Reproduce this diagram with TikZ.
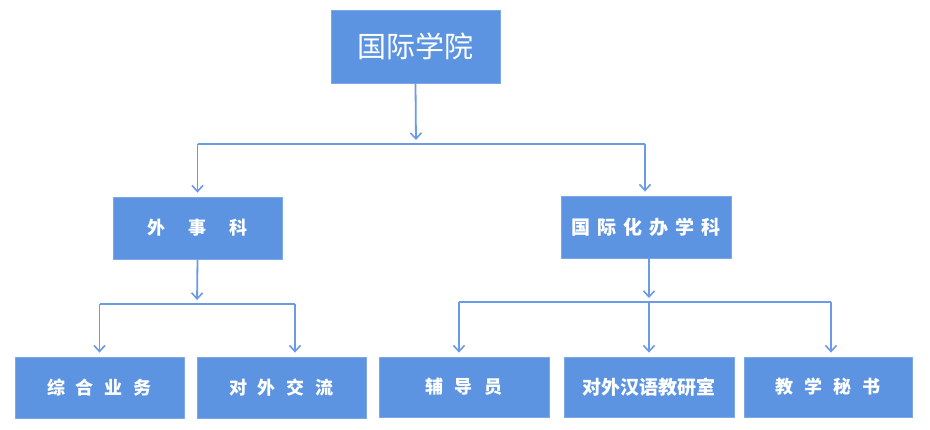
\documentclass[tikz,border=0pt]{standalone}
\usepackage{fontspec}
\newfontfamily\cjk{Noto Sans CJK SC}
\usetikzlibrary{arrows.meta}
\definecolor{boxfill}{RGB}{92,148,226}
\definecolor{boxedge}{RGB}{125,168,232}
\definecolor{linec}{RGB}{106,154,232}
\tikzset{
  orgbox/.style={draw=boxedge, line width=0.8pt, fill=boxfill, text=white, inner sep=0pt,
    minimum width=169pt, minimum height=61pt, font=\cjk\bfseries\fontsize{18pt}{20pt}\selectfont},
  conn/.style={draw=linec, line width=1.8pt, -{Straight Barb[length=6pt,width=11pt,line width=1.6pt]}, shorten >=4pt},
  bus/.style={draw=linec, line width=1.8pt}
}
\begin{document}
\begin{tikzpicture}[x=1pt,y=-1pt]
\useasboundingbox (0,0) rectangle (930,429);
\fill[white] (0,0) rectangle (930,429);
% top
\node[orgbox, minimum width=169pt, minimum height=73pt, font=\cjk\fontsize{29pt}{31pt}\selectfont] (top) at (415.5,46.5) {国际学院};
% level 2
\node[orgbox, minimum height=62pt] (wsk) at (197.5,228) {外\hspace{23pt}事\hspace{23pt}科};
\node[orgbox, minimum width=170pt, minimum height=62pt, font=\cjk\bfseries\fontsize{19pt}{21pt}\selectfont] (gjh) at (646,227) {国\hspace{7pt}际\hspace{7pt}化\hspace{7pt}办\hspace{7pt}学\hspace{7pt}科};
% level 3
\node[orgbox] (zh) at (99.5,387.5) {综\hspace{11pt}合\hspace{11pt}业\hspace{11pt}务};
\node[orgbox] (dw) at (281.5,387.5) {对\hspace{11pt}外\hspace{11pt}交\hspace{11pt}流};
\node[orgbox, minimum width=170pt, minimum height=60pt] (fdy) at (464,387) {辅\hspace{11.5pt}导\hspace{11.5pt}员};
\node[orgbox, minimum width=170pt, minimum height=60pt, font=\cjk\bfseries\fontsize{19pt}{21pt}\selectfont] (dwhy) at (649,387) {对外汉语教研室};
\node[orgbox, minimum width=168pt, minimum height=60pt] (jx) at (828,387) {教\hspace{11pt}学\hspace{11pt}秘\hspace{11pt}书};
% buses
\coordinate (b1) at (416,144);
\coordinate (b1l) at (197.5,144);
\coordinate (b1r) at (645,144);
\coordinate (b2) at (197,304);
\coordinate (b2r) at (295,304);
\coordinate (b3) at (649,302);
\coordinate (b3l) at (459,302);
\coordinate (b3r) at (831,302);
% connectors
\draw[conn] (top.south) -- (b1);
\draw[bus] (b1l) -- (b1r);
\draw[conn] (b1l) -- (b1l |- wsk.north);
\draw[conn] (b1r) -- (b1r |- gjh.north);
\draw[conn] (wsk.south) -- (b2);
\draw[bus] (zh.north |- b2) -- (b2r);
\draw[conn] (zh.north |- b2) -- (zh.north);
\draw[conn] (b2r) -- (b2r |- dw.north);
\draw[conn] (b3 |- gjh.south) -- (b3);
\draw[bus] (b3l) -- (b3r);
\draw[conn] (b3l) -- (b3l |- fdy.north);
\draw[conn] (b3) -- (dwhy.north);
\draw[conn] (b3r) -- (b3r |- jx.north);
\end{tikzpicture}
\end{document}
